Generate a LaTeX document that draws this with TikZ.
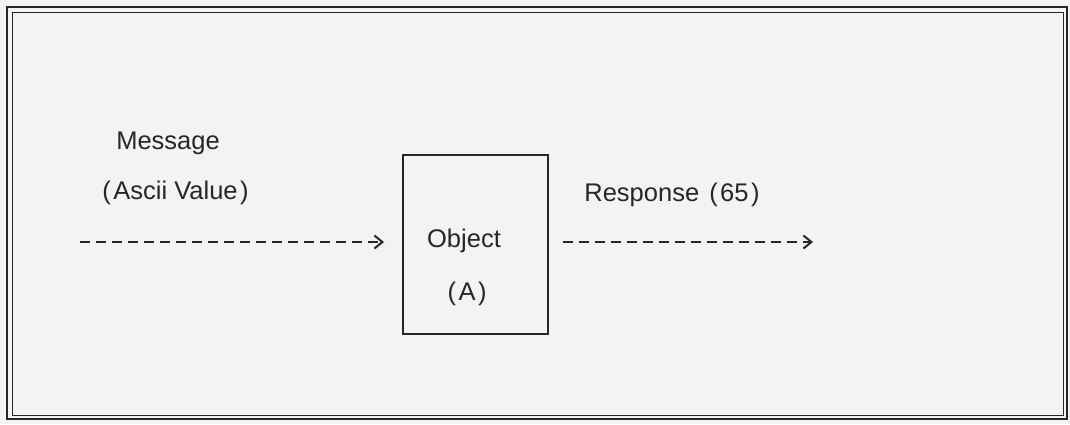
\documentclass[tikz,border=0pt]{standalone}
\usepackage{fontspec}
\setmainfont{Liberation Sans}
\usetikzlibrary{arrows.meta}
\definecolor{ink}{HTML}{262626}
\definecolor{paper}{HTML}{F3F3F2}
\newcommand{\lp}{(\kern2.5pt}
\newcommand{\rp}{\kern2.5pt)}
\tikzset{
  label text/.style={text=ink, inner sep=0pt, anchor=base, font=\fontsize{25.5}{29}\selectfont},
  msgarrow/.style={draw=ink, line width=2.2pt, dash pattern=on 10pt off 6pt,
    -{Straight Barb[length=8pt,width=13pt,line width=2pt]}},
}
\begin{document}
\begin{tikzpicture}[x=1pt,y=-1pt]
  % page and double frame
  \fill[paper] (0,0) rectangle (1070,424);
  \useasboundingbox (0,0) rectangle (1070,424);
  \draw[ink, line width=1.8pt] (7,7) rectangle (1067,419);
  \draw[ink, line width=1pt] (12,12) rectangle (1063,415);

  % the object
  \node[draw=ink, line width=1.7pt, minimum width=145pt, minimum height=179pt,
        inner sep=0pt] (obj) at (475.5,244.5) {};
  \node[label text] (objname) at (464,247) {Object};
  \node[label text] (objval) at (467,300) {\lp A\rp};

  % incoming message
  \node[label text] (msg) at (168,149) {Message};
  \node[label text] (msgval) at (175.5,199) {\lp Ascii Value\rp};
  \coordinate (in) at (80,242);
  \coordinate (inend) at (384,242);
  \draw[msgarrow] (in) -- (inend);

  % outgoing response
  \node[label text] (resp) at (672,201) {Response\kern3pt\ \lp 65\rp};
  \coordinate (outstart) at (563,242);
  \coordinate (out) at (813,242);
  \draw[msgarrow] (outstart) -- (out);
\end{tikzpicture}
\end{document}
